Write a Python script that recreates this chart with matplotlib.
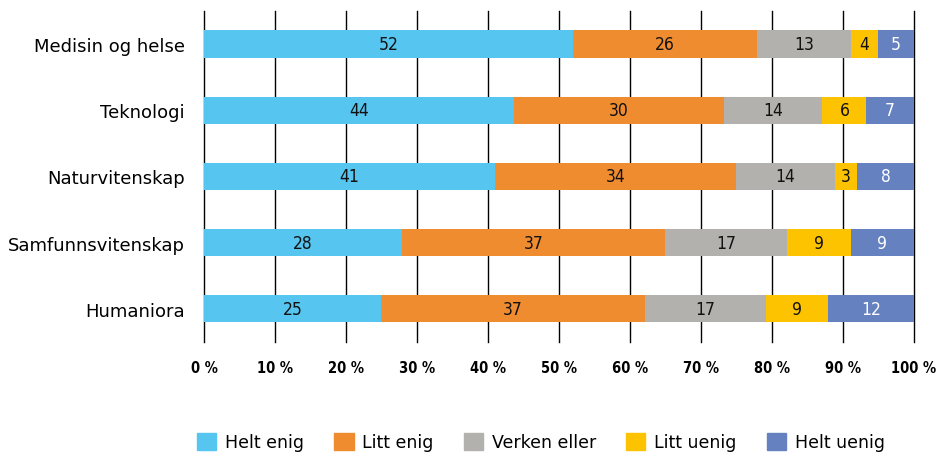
import matplotlib.pyplot as plt
from matplotlib.patches import Patch
import numpy as np

categories = ['Medisin og helse', 'Teknologi', 'Naturvitenskap', 'Samfunnsvitenskap', 'Humaniora']
series = ['Helt enig', 'Litt enig', 'Verken eller', 'Litt uenig', 'Helt uenig']
colors = ['#56C5F0', '#F08C30', '#B2B1AD', '#FDC300', '#6581C0']

# bar widths (share in %)
values = np.array([
    [52.0, 25.9, 13.2, 3.8, 5.1],
    [43.6, 29.6, 13.9, 6.2, 6.7],
    [41.0, 33.9, 14.0, 3.1, 8.0],
    [27.9, 37.0, 17.2, 9.0, 8.9],
    [24.9, 37.2, 17.1, 8.7, 12.1],
])
# printed labels
labels = [
    [52, 26, 13, 4, 5],
    [44, 30, 14, 6, 7],
    [41, 34, 14, 3, 8],
    [28, 37, 17, 9, 9],
    [25, 37, 17, 9, 12],
]
ticks = [0, 10, 20, 30, 40, 50, 60, 70, 80, 90, 100]

fig = plt.figure(figsize=(9.42, 4.56), dpi=100)
ax = fig.add_axes([0.2166, 0.248, 0.7537, 0.726])

y = np.arange(len(categories))
left = np.zeros(len(categories))
for j, name in enumerate(series):
    ax.barh(y, values[:, j], left=left, height=0.41, color=colors[j], zorder=3)
    for i in range(len(categories)):
        tc = 'white' if j == 4 else '#111111'
        ax.text(left[i] + values[i, j] / 2, y[i], str(labels[i][j]), ha='center', va='center',
                fontsize=12.5, fontstretch='condensed', color=tc, zorder=4)
    left += values[:, j]

for t in ticks:
    ax.axvline(t, color='black', lw=1.0, zorder=1, clip_on=False)

ax.set_xlim(0, 100)
ax.set_ylim(4.5, -0.5)
ax.set_yticks(y)
ax.set_yticklabels(categories, fontsize=13)
ax.set_xticks(ticks)
ax.set_xticklabels([f'{t} %' for t in ticks], fontsize=10.5, fontweight='bold', fontstretch='condensed')
ax.tick_params(axis='x', length=0, pad=13)
ax.tick_params(axis='y', length=0, pad=14)
for s in ax.spines.values():
    s.set_visible(False)

handles = [Patch(color=c) for c in colors]
fig.legend(handles, series, loc='center', bbox_to_anchor=(541 / 942, 1 - 443 / 456), ncol=5,
           frameon=False, fontsize=12.5, handlelength=1.1, handleheight=1.1, columnspacing=1.75,
           handletextpad=0.5)

fig.savefig('out.png', dpi=100)
